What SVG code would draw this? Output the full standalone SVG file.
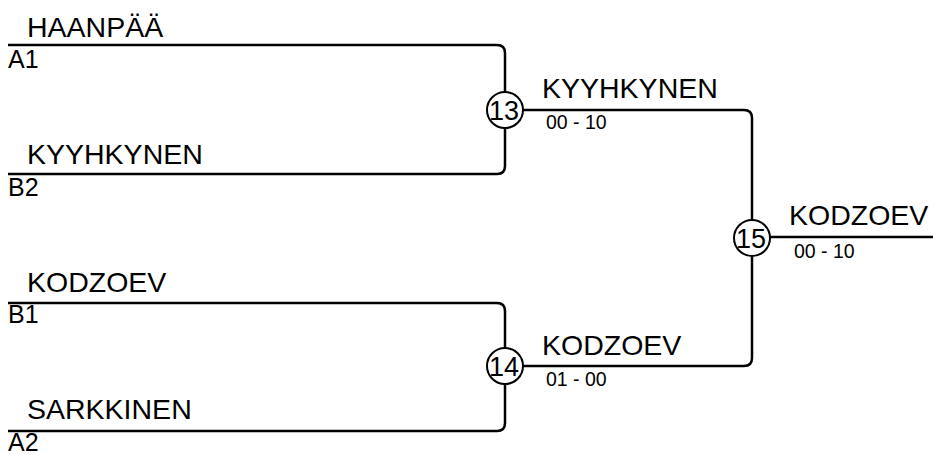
<svg xmlns="http://www.w3.org/2000/svg" width="933" height="455" viewBox="0 0 933 455">
<style>
.ln{fill:none;stroke:#000;stroke-width:2.5;stroke-linejoin:round}
.c{fill:#fff;stroke:#000;stroke-width:2}
.nm{font-family:"Liberation Sans",Arial,sans-serif;font-size:28.5px;fill:#000}
.sd{font-family:"Liberation Sans",Arial,sans-serif;font-size:25px;fill:#000}
.sc{font-family:"Liberation Sans",Arial,sans-serif;font-size:19.5px;fill:#000}
.mn{font-family:"Liberation Sans",Arial,sans-serif;font-size:27px;fill:#000;text-anchor:middle}
</style>
<rect width="933" height="455" fill="#fff"/>
<g id="connectors">
<path class="ln" d="M8 45 H497 Q505 45 505 53 V166 Q505 174 497 174 H8"/>
<path class="ln" d="M8 303 H497 Q505 303 505 311 V423 Q505 431 497 431 H8"/>
<path class="ln" d="M505 110 H744 Q752 110 752 118 V358 Q752 366 744 366 H505"/>
<path class="ln" d="M752 237 H933"/>
</g>
<g id="entry-a1">
<text class="nm" x="27" y="37">HAANPÄÄ</text>
<text class="sd" x="8" y="68">A1</text>
</g>
<g id="entry-b2">
<text class="nm" x="27" y="164">KYYHKYNEN</text>
<text class="sd" x="8" y="196">B2</text>
</g>
<g id="entry-b1">
<text class="nm" x="27" y="292">KODZOEV</text>
<text class="sd" x="8" y="323">B1</text>
</g>
<g id="entry-a2">
<text class="nm" x="27" y="419">SARKKINEN</text>
<text class="sd" x="8" y="451">A2</text>
</g>
<g id="match-13">
<circle class="c" cx="505" cy="110" r="18"/>
<text class="mn" x="504" y="120">13</text>
<text class="nm" x="542" y="98">KYYHKYNEN</text>
<text class="sc" x="546" y="129">00 - 10</text>
</g>
<g id="match-14">
<circle class="c" cx="505" cy="366" r="18"/>
<text class="mn" x="504" y="376">14</text>
<text class="nm" x="542" y="355">KODZOEV</text>
<text class="sc" x="546" y="386">01 - 00</text>
</g>
<g id="match-15">
<circle class="c" cx="752" cy="238" r="18"/>
<text class="mn" x="751" y="248">15</text>
<text class="nm" x="789" y="225">KODZOEV</text>
<text class="sc" x="794" y="258">00 - 10</text>
</g>
</svg>
